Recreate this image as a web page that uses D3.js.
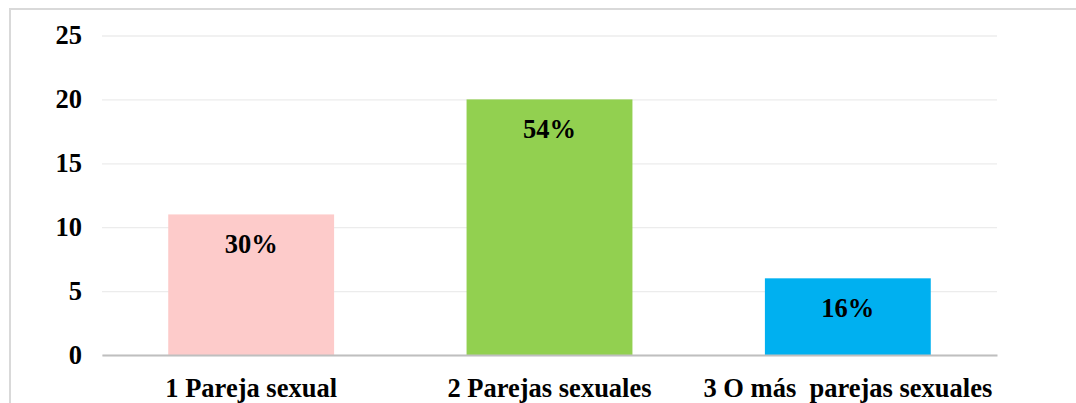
<!DOCTYPE html>
<html>
<head>
<meta charset="utf-8">
<script src="https://cdn.jsdelivr.net/npm/d3@7"></script>
<style>
  body { margin: 0; background: #fff; }
</style>
</head>
<body>
<div id="chart"></div>
<script>
var categories = ["1 Pareja sexual", "2 Parejas sexuales", "3 O más  parejas sexuales"];
var counts = [11, 20, 6];
var percents = ["30%", "54%", "16%"];
var barColors = ["#fdcbca", "#92d050", "#00b0f0"];
var yTicks = [0, 5, 10, 15, 20, 25];

var width = 1076, height = 403;
var margin = {top: 35.5, right: 79, bottom: 48, left: 102};
var innerW = width - margin.left - margin.right,
    innerH = height - margin.top - margin.bottom;
var fontSize = "26.5px";

function serifText(sel) {
  sel.attr("font-family", null)
    .style("font-family", "'Liberation Serif', 'Times New Roman', serif")
    .style("font-weight", "bold")
    .style("font-size", fontSize)
    .style("fill", "#000");
}

var svg = d3.select("#chart").append("svg")
    .attr("width", width)
    .attr("height", height);

// frame (only top and left visible in the crop)
svg.append("line").attr("x1", 9).attr("x2", width).attr("y1", 9).attr("y2", 9)
    .attr("stroke", "#d9d9d9").attr("stroke-width", 2);
svg.append("line").attr("x1", 10).attr("x2", 10).attr("y1", 9).attr("y2", height)
    .attr("stroke", "#d9d9d9").attr("stroke-width", 2);

var g = svg.append("g")
    .attr("transform", "translate(" + margin.left + "," + margin.top + ")");

var x = d3.scaleBand().domain(categories).range([0, innerW])
    .paddingInner(0.444).paddingOuter(0.222);
var y = d3.scaleLinear().domain([0, 25]).range([innerH, 0]);

// gridlines
g.append("g")
    .call(d3.axisLeft(y).tickValues(yTicks).tickSize(-innerW).tickFormat(""))
    .call(function(s) {
      s.select(".domain").remove();
      s.selectAll("line").attr("stroke", "#ececec").attr("stroke-width", 1.3);
    });

// y labels
g.append("g")
    .call(d3.axisLeft(y).tickValues(yTicks).tickSize(0).tickPadding(20))
    .call(function(s) {
      s.select(".domain").remove();
      s.selectAll("text").call(serifText);
    });

// bars
g.selectAll(".bar")
    .data(counts)
    .enter().append("rect")
    .attr("class", "bar")
    .attr("x", function(d, i) { return x(categories[i]); })
    .attr("y", function(d) { return y(d); })
    .attr("width", x.bandwidth())
    .attr("height", function(d) { return innerH - y(d); })
    .attr("fill", function(d, i) { return barColors[i]; });

// value labels
g.selectAll(".val")
    .data(counts)
    .enter().append("text")
    .attr("class", "val")
    .attr("x", function(d, i) { return x(categories[i]) + x.bandwidth() / 2; })
    .attr("y", function(d) { return y(d) + 39; })
    .attr("text-anchor", "middle")
    .text(function(d, i) { return percents[i]; })
    .call(serifText);

// x axis
g.append("g")
    .attr("transform", "translate(0," + innerH + ")")
    .call(d3.axisBottom(x).tickSize(0).tickPadding(23))
    .call(function(s) {
      s.select(".domain").attr("stroke", "#bfbfbf").attr("stroke-width", 2.2);
      s.selectAll("text").call(serifText).style("white-space", "pre");
    });
</script>
</body>
</html>
